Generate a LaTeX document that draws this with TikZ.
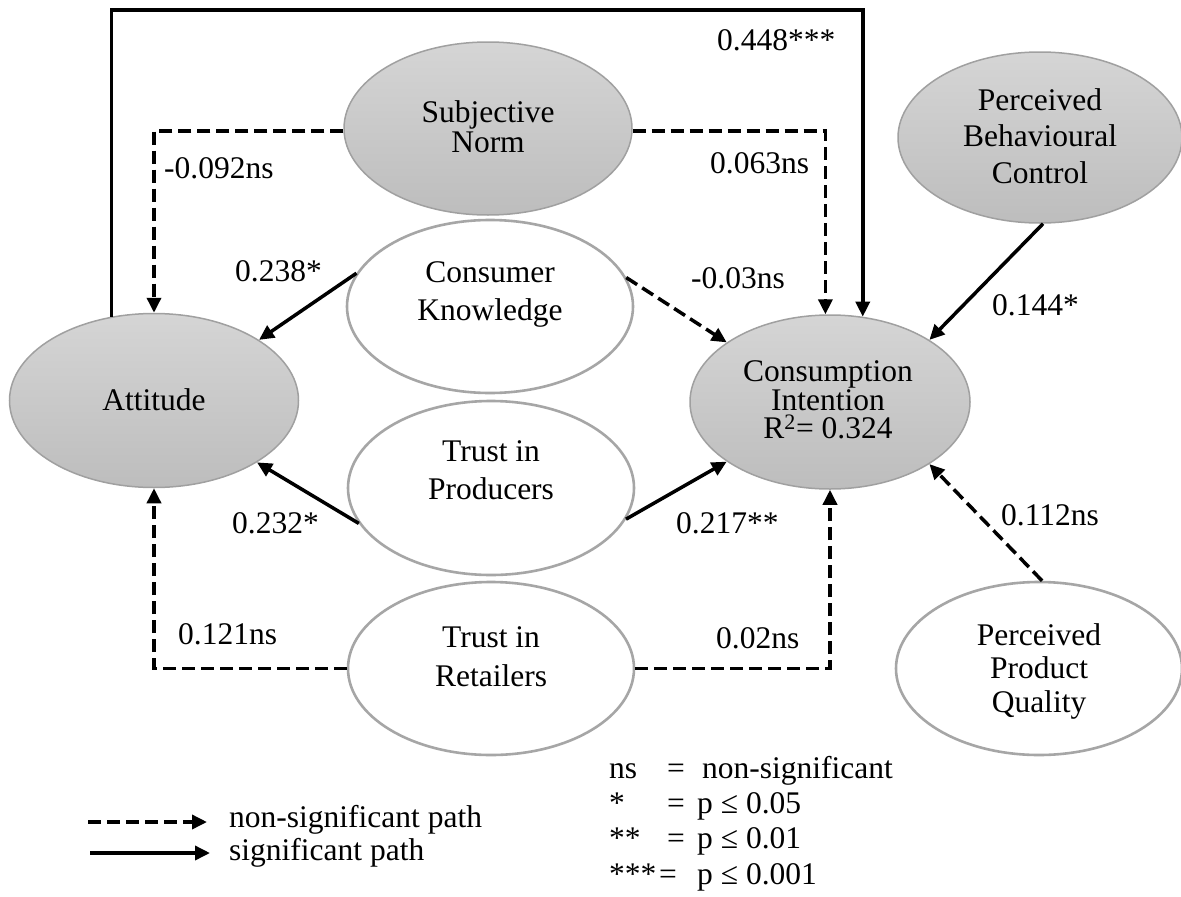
\documentclass[tikz,border=0pt]{standalone}
\usepackage{fontspec}
\setmainfont{Liberation Serif}
\usetikzlibrary{shapes.geometric,arrows.meta}

\definecolor{latTop}{RGB}{213,213,213}
\definecolor{latBottom}{RGB}{189,189,189}
\definecolor{latEdge}{RGB}{160,160,160}
\definecolor{obsEdge}{RGB}{166,166,166}

% diagram font: 31.5pt Times-like, with the given baseline skip
\newcommand\pathfont[1]{\fontsize{31.5}{#1}\selectfont\lineskiplimit=-100pt\relax}

\begin{document}
\begin{tikzpicture}[x=1pt,y=-1pt,
  ell/.style 2 args={minimum width=#1pt,minimum height=#2pt},
  latent/.style={ellipse,draw=latEdge,line width=1.5pt,top color=latTop,bottom color=latBottom,inner sep=0pt},
  observed/.style={ellipse,draw=obsEdge,line width=2.6pt,fill=white,inner sep=0pt},
  ctext/.style={align=center,inner sep=0pt,font=\pathfont{#1}},
  coef/.style={anchor=base west,inner sep=0pt,font=\pathfont{38}},
  sig/.style={line width=3.5pt,-{Triangle[length=15pt,width=14pt]}},
  nonsig/.style={sig,dash pattern=on 13pt off 6pt}]

\fill[white] (0,0) rectangle (1181,897);
\useasboundingbox (0,0) rectangle (1181,897);

% constructs
\node[latent,ell={289}{174}]   (att) at (154,400.5) {};
\node[latent,ell={288}{173}]   (sn)  at (488,128.5) {};
\node[observed,ell={286}{173}] (ck)  at (490,306.5) {};
\node[observed,ell={286}{174}] (tp)  at (491,488) {};
\node[observed,ell={286}{173}] (tr)  at (491,668.5) {};
\node[latent,ell={280}{174}]   (ci)  at (830,402) {};
\node[latent,ell={284}{171}]   (pbc) at (1040,137.5) {};
\node[observed,ell={286}{173}] (ppq) at (1039,668.5) {};

% construct names
\node[ctext=38]   (attT) at (154,400)   {Attitude};
\node[ctext=30]   (snT)  at (488,126.5) {Subjective\\Norm};
\node[ctext=38]   (ckT)  at (490,294)   {Consumer\\Knowledge};
\node[ctext=38]   (tpT)  at (491,470)   {Trust in\\Producers};
\node[ctext=39]   (trT)  at (491,657)   {Trust in\\Retailers};
\node[ctext=28.5] (ciT)  at (828,400)   {Consumption\\Intention\\R\smash{\textsuperscript{2}}= 0.324};
\node[ctext=36.5] (pbcT) at (1040,136)  {Perceived\\Behavioural\\Control};
\node[ctext=33.5] (ppqT) at (1039,671)  {Perceived\\Product\\Quality};

% structural paths
\coordinate (topline) at (0,10);
\draw[sig] (att.117.25) -- (att.117.25 |- topline) -| (ci.69.9);
\draw[nonsig] (sn.181.8) -| (att.north);
\draw[nonsig] (sn.-1.8) -| (ci.93.3);
\draw[sig] (ck.166.1) -- (att.30.8);
\draw[nonsig] (ck.12.9) -- (ci.150.1);
\draw[sig] (tp.195) -- (att.-31.2);
\draw[sig] (tp.-13.3) -- (ci.210.3);
\draw[nonsig] (tr.west) -| (att.south);
\draw[nonsig] (tr.east) -| (ci.south);
\draw[sig] (pbc.-88) -- (ci.32.3);
\draw[nonsig] (ppq.88) -- (ci.-32.7);

% path coefficients
\node[coef] (c1)  at (717,50)  {0.448***};
\node[coef] (c2)  at (164,178) {-0.092ns};
\node[coef] (c3)  at (710,173) {0.063ns};
\node[coef] (c4)  at (235,281) {0.238*};
\node[coef] (c5)  at (691,288) {-0.03ns};
\node[coef] (c6)  at (992,315) {0.144*};
\node[coef] (c7)  at (232,533) {0.232*};
\node[coef] (c8)  at (676,533) {0.217**};
\node[coef] (c9)  at (1001,525) {0.112ns};
\node[coef] (c10) at (178,644) {0.121ns};
\node[coef] (c11) at (716,648) {0.02ns};

% line legend
\coordinate (lgA1) at (88,822);
\coordinate (lgA2) at (207,822);
\coordinate (lgB1) at (90,853);
\coordinate (lgB2) at (210,853);
\draw[nonsig] (lgA1) -- (lgA2);
\draw[sig] (lgB1) -- (lgB2);
\node[coef] (lgAT) at (229,827) {non-significant path};
\node[coef] (lgBT) at (229,860) {significant path};

% significance key
\node[coef] (k1a) at (609,778)   {ns};
\node[coef] (k1b) at (667,778)   {=};
\node[coef] (k1c) at (702,778)   {non-significant};
\node[coef] (k2a) at (609,813) {*};
\node[coef] (k2b) at (667,813) {=};
\node[coef] (k2c) at (697,813) {p ≤ 0.05};
\node[coef] (k3a) at (609,848.5)   {**};
\node[coef] (k3b) at (667,848.5)   {=};
\node[coef] (k3c) at (697,848.5)   {p ≤ 0.01};
\node[coef] (k4a) at (609,884) {***};
\node[coef] (k4b) at (659,884) {=};
\node[coef] (k4c) at (697,884) {p ≤ 0.001};

\end{tikzpicture}
\end{document}
